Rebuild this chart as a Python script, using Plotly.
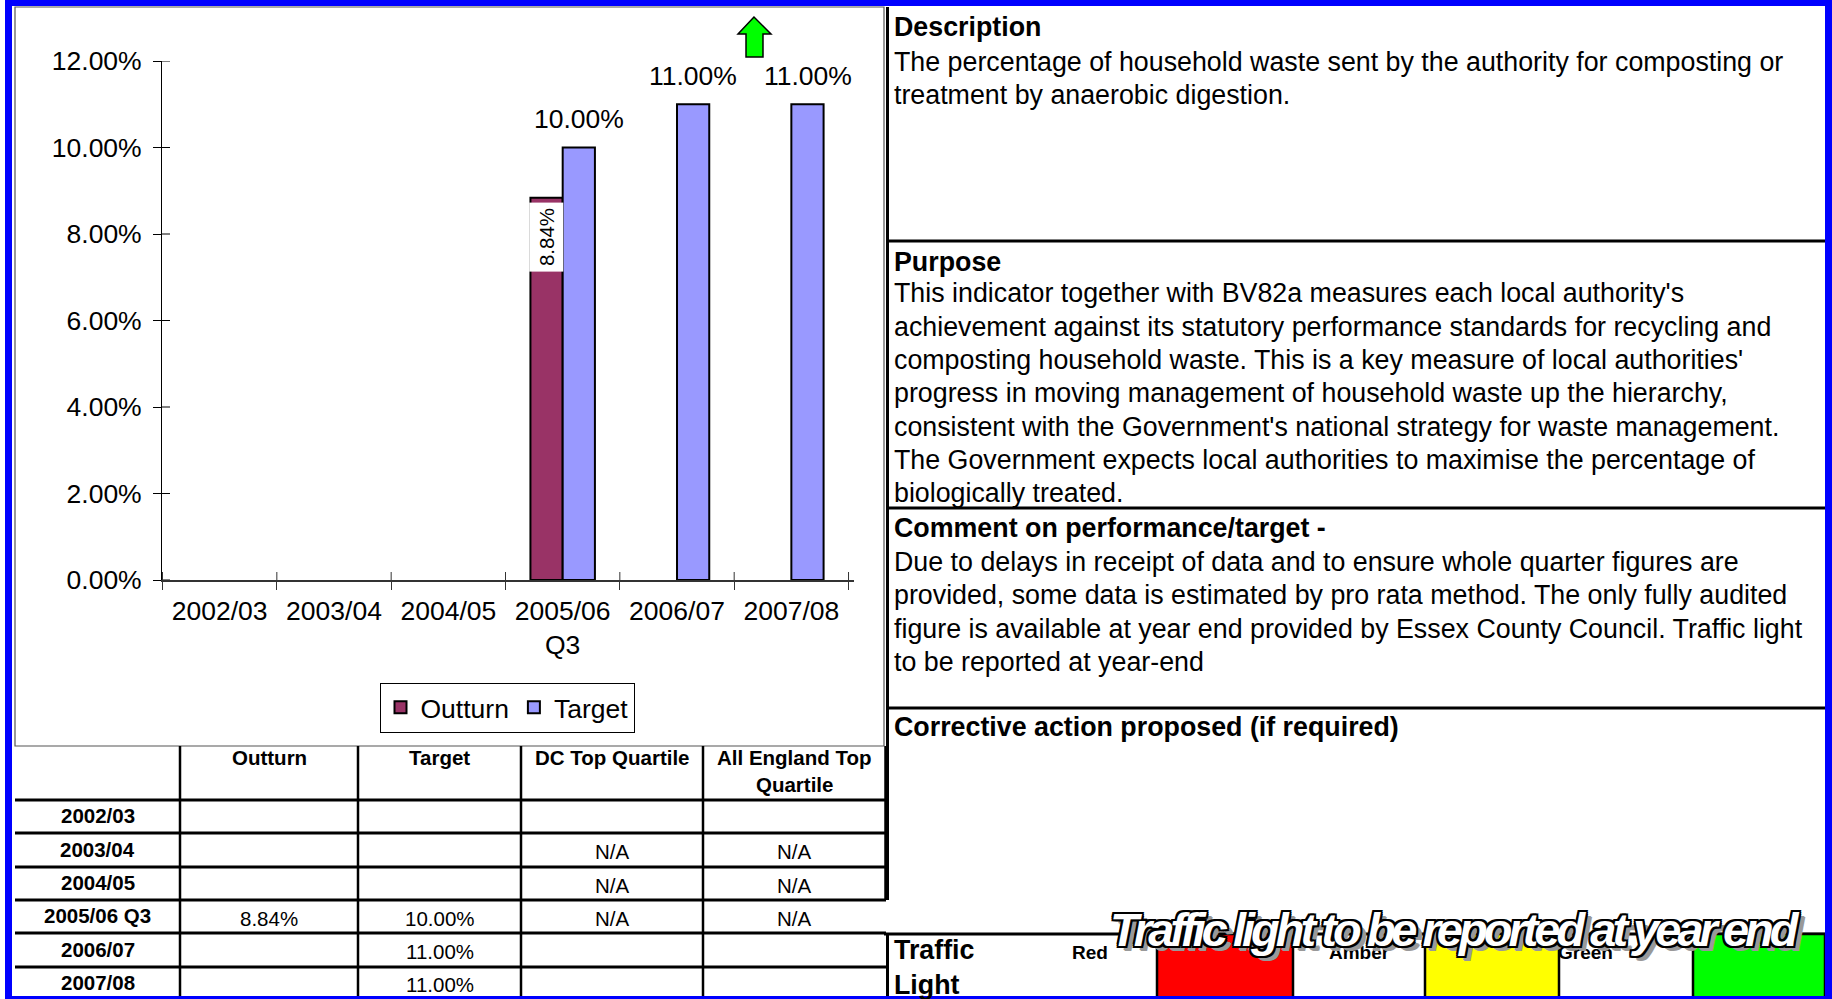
import plotly.graph_objects as go

# ---------------- data ----------------
categories = ["2002/03", "2003/04", "2004/05", "2005/06<br>Q3", "2006/07", "2007/08"]
table_rows = ["2002/03", "2003/04", "2004/05", "2005/06 Q3", "2006/07", "2007/08"]
outturn = [None, None, None, 0.0884, None, None]
target = [None, None, None, 0.10, 0.11, 0.11]
dc_top_quartile = ["", "N/A", "N/A", "N/A", "", ""]
england_top_quartile = ["", "N/A", "N/A", "N/A", "", ""]
table_headers = ["", "Outturn", "Target", "DC Top Quartile", "All England Top<br>Quartile"]
y_tick_values = [0.0, 0.02, 0.04, 0.06, 0.08, 0.10, 0.12]

panel_headings = ["Description", "Purpose", "Comment on performance/target -",
                  "Corrective action proposed (if required)"]
description_lines = [
    "The percentage of household waste sent by the authority for composting or",
    "treatment by anaerobic digestion.",
]
purpose_lines = [
    "This indicator together with BV82a measures each local authority's",
    "achievement against its statutory performance standards for recycling and",
    "composting household waste. This is a key measure of local authorities'",
    "progress in moving management of household waste up the hierarchy,",
    "consistent with the Government's national strategy for waste management.",
    "The Government expects local authorities to maximise the percentage of",
    "biologically treated.",
]
comment_lines = [
    "Due to delays in receipt of data and to ensure whole quarter figures are",
    "provided, some data is estimated by pro rata method. The only fully audited",
    "figure is available at year end provided by Essex County Council. Traffic light",
    "to be reported at year-end",
]
corrective_lines = []
traffic_labels = ["Red", "Amber", "Green"]
traffic_colors = ["#FF0000", "#FFFF00", "#00FF00"]
wordart_text = "Traffic light to be reported at year end"

# ---------------- layout helpers ----------------
W, H = 1832, 999
FONT = "Liberation Sans, Arial, sans-serif"
CHART_FS = 26.5
PANEL_FS = 26.8
TABLE_FS = 20.5


def px(x):
    return x / W


def py(y):
    return 1 - y / H


X0, X1 = 162, 853.6
Y_BOTTOM, Y_TOP = 580, 61
BARGAP = 0.436
bar_px = (X1 - X0) / len(categories) * (1 - BARGAP) / 2

fig = go.Figure()

fig.add_trace(go.Bar(
    name="Outturn", x=categories, y=outturn,
    marker=dict(color="#993366", line=dict(color="black", width=2)),
))
fig.add_trace(go.Bar(
    name="Target", x=categories, y=target,
    marker=dict(color="#9999FF", line=dict(color="black", width=2)),
))

annotations = []
shapes = []


def fmt(v):
    return "" if v is None else f"{v:.2%}"


def txt(x, y, text, size, anchor="center", bold=False, yanchor="middle"):
    annotations.append(dict(
        x=px(x), y=py(y), xref="paper", yref="paper",
        text=f"<b>{text}</b>" if bold else text,
        showarrow=False, xanchor=anchor, yanchor=yanchor,
        font=dict(family=FONT, size=size, color="black"),
    ))


def hline(y, x0, x1, w=3, color="black"):
    shapes.append(dict(type="line", xref="paper", yref="paper", x0=px(x0), x1=px(x1),
                       y0=py(y), y1=py(y), line=dict(color=color, width=w), layer="above"))


def vline(x, y0, y1, w=3, color="black"):
    shapes.append(dict(type="line", xref="paper", yref="paper", x0=px(x), x1=px(x),
                       y0=py(y0), y1=py(y1), line=dict(color=color, width=w), layer="above"))


# ---- bar labels ----
for cat, v in zip(categories, target):
    if v is not None:
        annotations.append(dict(
            x=cat, y=v, xref="x", yref="y", text=fmt(v), showarrow=False,
            xshift=bar_px / 2, yanchor="bottom", yshift=11,
            font=dict(family=FONT, size=CHART_FS, color="black"),
        ))
for cat, v in zip(categories, outturn):
    if v is not None:
        annotations.append(dict(
            x=cat, y=v, xref="x", yref="y", text=fmt(v), showarrow=False,
            xshift=-bar_px / 2, yanchor="top", yshift=-4, textangle=-90,
            bgcolor="white", borderpad=5,
            font=dict(family=FONT, size=20.5, color="black"),
        ))

# ---- inside halves of the crossing tick marks ----
for v in y_tick_values:
    shapes.append(dict(type="line", xref="x domain", yref="y", x0=0, x1=8 / (X1 - X0),
                       y0=v, y1=v, line=dict(color="black", width=1)))
for i in range(len(categories) + 1):
    shapes.append(dict(type="line", xref="x", yref="y domain", x0=i - 0.5, x1=i - 0.5,
                       y0=0, y1=8 / (Y_BOTTOM - Y_TOP), line=dict(color="#333", width=1)))

# ---- table (drawn cell by cell) ----
col_edges = [15, 180, 358, 521, 703, 885]
row_edges = [746, 800, 833, 867, 900, 933, 967, 999]
columns = [table_rows, [fmt(v) for v in outturn], [fmt(v) for v in target],
           dc_top_quartile, england_top_quartile]
for c, head in enumerate(table_headers):
    cx = (col_edges[c] + col_edges[c + 1]) / 2
    for k, part in enumerate(head.split("<br>")):
        if part:
            txt(cx, 757 + 27 * k, part, TABLE_FS, bold=True)
for c, col in enumerate(columns):
    cx = (col_edges[c] + col_edges[c + 1]) / 2
    for r, val in enumerate(col):
        if val:
            cy = (row_edges[r + 1] + row_edges[r + 2]) / 2
            txt(cx, cy + (-1 if c == 0 else 1.5), val, TABLE_FS, bold=(c == 0))
for yy in row_edges[1:-1]:
    hline(yy, 15, 886)
for xx in col_edges[1:-1]:
    vline(xx, 746, 999, w=2.5)
vline(885.5, 746, 900, w=2.5)

# ---- right panels ----
heading_y = [27, 262, 528, 727]
body_start_y = [61.7, 293.3, 562, 761]
LINE = 33.3
for head, hy, by, lines in zip(panel_headings, heading_y, body_start_y,
                               [description_lines, purpose_lines, comment_lines, corrective_lines]):
    txt(892, hy, head, PANEL_FS, anchor="left", bold=True)
    for i, ln in enumerate(lines):
        txt(892, by + i * LINE, ln, PANEL_FS, anchor="left")

vline(887.5, 7, 900)
vline(887.5, 934, 999)
for yy in [241, 508, 708]:
    hline(yy, 887, 1825)
hline(934, 884, 1825)

# ---- traffic light row ----
for word, yy in zip(["Traffic", "Light"], [950, 985]):
    txt(892, yy, word, PANEL_FS, anchor="left", bold=True)
label_cx = [1090, 1359, 1585]
box_x = [(1157, 1293), (1425, 1559), (1693, 1825)]
for lab, cx, (bx0, bx1), col in zip(traffic_labels, label_cx, box_x, traffic_colors):
    txt(cx, 952, lab, 19, bold=True)
    shapes.append(dict(type="rect", xref="paper", yref="paper",
                       x0=px(bx0), x1=px(bx1), y0=py(999), y1=py(934),
                       fillcolor=col, line=dict(color="black", width=2.5), layer="above"))

# word-art style banner
annotations.append(dict(
    x=px(1455), y=py(929), xref="paper", yref="paper",
    text=f"<span style='letter-spacing:-4px'>{wordart_text}</span>",
    showarrow=False, xanchor="center", yanchor="middle",
    font=dict(family=FONT, size=47, color="white", weight="bold", style="italic",
              shadow=("-2px -2px 0 #000, 2px -2px 0 #000, -2px 2px 0 #000, 2px 2px 0 #000, "
                      "0 2px 0 #000, 0 -2px 0 #000, 2px 0 0 #000, -2px 0 0 #000, "
                      "5px 4px 0 #999, 6px 5px 0 #999")),
))

# ---- chart panel frame ----
shapes.append(dict(type="rect", xref="paper", yref="paper", x0=px(15), x1=px(884),
                   y0=py(746), y1=py(7), line=dict(color="#555", width=1.2), layer="below"))

# ---- green arrow ----
arrow_pts = [(754, 17), (738, 34), (746, 34), (746, 57), (763, 57), (763, 34), (771, 34)]
path = "M " + " L ".join(f"{px(a):.5f},{py(b):.5f}" for a, b in arrow_pts) + " Z"
shapes.append(dict(type="path", xref="paper", yref="paper", path=path,
                   fillcolor="#00FF00", line=dict(color="black", width=1.5), layer="above"))

# ---- blue frame ----
for (a, b, c, d) in [(5, 0, 12, 999), (5, 0, 1832, 6), (1825, 0, 1832, 999), (5, 996, 1832, 999)]:
    shapes.append(dict(type="rect", xref="paper", yref="paper", x0=px(a), x1=px(c),
                       y0=py(d), y1=py(b), fillcolor="#0000FF", line=dict(width=0), layer="above"))

fig.update_layout(
    template="none",
    width=W, height=H, margin=dict(l=0, r=0, t=0, b=0, pad=0, autoexpand=False),
    paper_bgcolor="white", plot_bgcolor="white",
    barmode="group", bargap=BARGAP, bargroupgap=0,
    font=dict(family=FONT, size=CHART_FS, color="black"),
    showlegend=True,
    xaxis=dict(domain=[px(X0), px(X1)], type="category", categoryorder="array",
               categoryarray=categories, showline=True, linecolor="#333", linewidth=2,
               ticks="outside", ticklen=8, tickcolor="#333", tickson="boundaries",
               showgrid=False, zeroline=False, ticklabelstandoff=6, automargin=False,
               tickfont=dict(family=FONT, size=CHART_FS, color="black"), fixedrange=True),
    yaxis=dict(domain=[py(Y_BOTTOM), py(Y_TOP)], range=[0, 0.12], tickvals=y_tick_values,
               tickformat=".2%", showline=True, linecolor="black", linewidth=1,
               ticks="outside", ticklen=8, tickcolor="black", showgrid=False,
               zeroline=False, ticklabelstandoff=6, automargin=False,
               tickfont=dict(family=FONT, size=CHART_FS, color="black"), fixedrange=True),
    legend=dict(orientation="h", x=px(507), y=py(707.5), xanchor="center", yanchor="middle",
                bordercolor="black", borderwidth=1, bgcolor="white",
                font=dict(family=FONT, size=CHART_FS, color="black"), traceorder="normal"),
    annotations=annotations,
    shapes=shapes,
)

fig.write_html("out.html", config={"displayModeBar": False},
               post_script="document.body.style.margin='0';document.body.style.overflow='hidden';"
                           "document.documentElement.style.overflow='hidden';")
